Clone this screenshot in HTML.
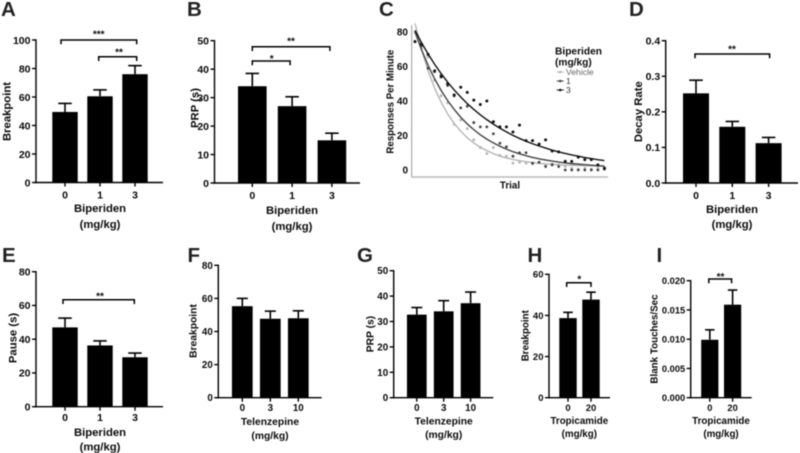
<!DOCTYPE html>
<html lang="en">
<head>
<meta charset="utf-8">
<title>Biperiden, Telenzepine and Tropicamide panels</title>
<style>
html,body{margin:0;padding:0;background:#fff;}
#figure{display:block;width:800px;height:453px;font-family:"Liberation Sans",Arial,sans-serif;font-weight:bold;fill:#0a0a0a;filter:blur(0.4px);}
</style>
</head>
<body>
<svg id="figure" xmlns="http://www.w3.org/2000/svg" width="800" height="453" viewBox="0 0 800 453"></svg>
<script>
// ---- Bar chart data ----
const doseBiperiden = ['0', '1', '3'];
const doseTelenzepine = ['0', '3', '10'];
const doseTropicamide = ['0', '20'];

const ticksA = [0, 20, 40, 60, 80, 100];
const meansA = [49.5, 60.5, 76];
const errTopsA = [55.5, 65, 82];

const ticksB = [0, 10, 20, 30, 40, 50];
const meansB = [34, 27, 15];
const errTopsB = [38.5, 30.3, 17.5];

const ticksD = [0, 0.1, 0.2, 0.3, 0.4];
const meansD = [0.252, 0.158, 0.112];
const errTopsD = [0.289, 0.173, 0.128];

const ticksE = [0, 20, 40, 60, 80];
const meansE = [47, 36.3, 29.3];
const errTopsE = [52.5, 39, 31.8];

const ticksF = [0, 20, 40, 60, 80];
const meansF = [55.3, 47.7, 48];
const errTopsF = [60, 52.3, 52.5];

const ticksG = [0, 10, 20, 30, 40, 50];
const meansG = [32.7, 34, 37.2];
const errTopsG = [35.5, 38.2, 41.6];

const ticksH = [0, 20, 40, 60];
const meansH = [38.7, 47.7];
const errTopsH = [41.5, 51.3];

const ticksI = [0, 0.005, 0.01, 0.015, 0.02];
const meansI = [0.0099, 0.0159];
const errTopsI = [0.0116, 0.0184];

// ---- Panel C data (responses per minute by trial) ----
const trials = [1,2,3,4,5,6,7,8,9,10,11,12,13,14,15,16,17,18,19,20,21,22,23,24,25,26,27,28,29,30];
const ticksC = [0, 20, 40, 60, 80];
const legendLabels = ['Vehicle', '1', '3'];
const pointsVehicle = [80,70.5,65.5,52,43,39,26.5,29,24,17.5,13,9.5,13,8.5,8,4,4.5,4,3.5,4.5,3,3.5,3,2,1,0.5,1,0.5,1,1.5];
const pointsDose1 = [74.5,72,59,57,55,49,43,36,37,27.5,25,25,21,15.5,13.5,8,10,10,4,4.5,2,3,2,0,0,0,0,0,0,0.5];
const pointsDose3 = [74.4,73,67,57.5,54,50,43.5,48,45,40.5,38,40,28,25,25,22,26,17,17,15,17.5,11,10.5,5,5,7.5,6,6,3,1];
const fitVehicle = [85,70,57.6,47.5,39.3,32.5,27,22.5,18.7,15.7,13.2,11.2,9.5,8.1,7,6.1,5.4,4.8,4.3,3.9,3.5,3.3,3,2.8,2.7,2.6,2.5,2.4,2.3,2.2];
const fitDose1 = [80,69.7,60.7,52.9,46.1,40.2,35.1,30.6,26.7,23.4,20.4,17.9,15.7,13.8,12.1,10.6,9.4,8.3,7.3,6.5,5.8,5.2,4.6,4.1,3.7,3.4,3.1,2.8,2.5,2.3];
const fitDose3 = [81,73.8,67.3,61.3,55.9,50.9,46.4,42.3,38.5,35.1,32,29.2,26.6,24.2,22.1,20.1,18.3,16.7,15.2,13.9,12.7,11.5,10.5,9.6,8.7,8,7.2,6.6,6,5.5];

// ---- Helpers ----
const svg = document.getElementById('figure');
const NS = 'http://www.w3.org/2000/svg';

function mk(parent, tag, name, props, text) {
  const el = document.createElementNS(NS, tag);
  
  
  for (const k in props) el.setAttribute(k, props[k]);
  if (text !== undefined) el.textContent = text;
  parent.appendChild(el);
  return el;
}
function line(p, name, x1, y1, x2, y2, w, color) {
  return mk(p, 'line', name, {x1: x1, y1: y1, x2: x2, y2: y2, stroke: color || '#000', 'stroke-width': w});
}
function label(p, name, x, y, str, size, anchor, extra) {
  const props = Object.assign({x: x, y: y, 'font-size': size, 'text-anchor': anchor || 'middle'}, extra || {});
  return mk(p, 'text', name, props, str);
}
function yLabel(p, name, x, y, str, size) {
  return mk(p, 'text', name, {
    x: x, y: y, 'font-size': size, 'text-anchor': 'middle',
    transform: 'rotate(-90 ' + x + ' ' + y + ')'
  }, str);
}
function linearScale(d0, d1, r0, r1) {
  return function (v) { return r0 + (v - d0) * (r1 - r0) / (d1 - d0); };
}
function panelLetter(str, x, y) {
  label(svg, 'panel-letter-' + str.toLowerCase(), x, y, str, 20.5, 'start', {fill: '#222'});
}

function barPanel(o) {
  const g = mk(svg, 'g', 'panel-' + o.id, {});
  const domainMax = o.ticks[o.ticks.length - 1];
  const y = linearScale(0, domainMax, o.y0, o.yTop);
  const x = function (i) { return o.first + o.step * i; };

  o.means.forEach(function (m, i) {
    const bx = x(i);
    mk(g, 'rect', 'bar-' + o.cats[i], {x: bx - o.barW / 2, y: y(m), width: o.barW, height: o.y0 - y(m), fill: '#000'});
    line(g, 'error-stem-' + o.cats[i], bx, y(m), bx, y(o.errs[i]), 1.6);
    line(g, 'error-cap-' + o.cats[i], bx - o.capW / 2, y(o.errs[i]), bx + o.capW / 2, y(o.errs[i]), 1.6);
  });

  line(g, 'y-axis', o.axisX, o.yTop - 0.7, o.axisX, o.y0 + 0.7, 1.4);
  line(g, 'x-axis', o.axisX - 0.7, o.y0, o.xEnd, o.y0, 1.4);

  o.ticks.forEach(function (t) {
    line(g, 'y-tick', o.axisX - 4, y(t), o.axisX, y(t), 1.4);
    label(g, 'y-tick-label', o.axisX - 5.5, y(t) + o.tickSize * 0.36, t.toFixed(o.decimals), o.tickSize, 'end');
  });
  o.cats.forEach(function (c, i) {
    line(g, 'x-tick', x(i), o.y0, x(i), o.y0 + 4, 1.4);
    label(g, 'x-tick-label', x(i), o.xTickY + o.tickSize * 0.36, c, o.tickSize);
  });

  yLabel(g, 'y-axis-title', o.yTitleX, o.yTitleY, o.yTitle, o.titleSize);
  label(g, 'x-axis-title', o.xTitleX, o.xTitleY, o.xTitle, o.titleSize);
  label(g, 'x-axis-unit', o.xTitleX, o.unitY, '(mg/kg)', o.titleSize);

  (o.brackets || []).forEach(function (b) {
    const xa = x(b.from) + b.dxA, xb = x(b.to) + b.dxB;
    mk(g, 'path', 'significance-bracket', {
      d: 'M' + xa + ' ' + (b.y + 4.3) + 'V' + b.y + 'H' + xb + 'V' + (b.y + 4.3),
      fill: 'none', stroke: '#000', 'stroke-width': 1.5
    });
    label(g, 'significance-stars', b.starX, b.starY + 5.5, b.stars, 10);
  });
}

// ---- Bar panels ----
const common = {titleSize: 11.3, tickSize: 10.5, barW: 25.4, capW: 13.5, decimals: 0};

barPanel(Object.assign({}, common, {id: 'a', cats: doseBiperiden, ticks: ticksA, means: meansA, errs: errTopsA,
  axisX: 36, xEnd: 163, y0: 182.5, yTop: 40, first: 65, step: 35, xTickY: 194.5,
  yTitle: 'Breakpoint', yTitleX: 10.5, yTitleY: 111.5, xTitle: 'Biperiden', xTitleX: 100, xTitleY: 212, unitY: 228,
  brackets: [
    {from: 0, to: 2, dxA: -4, dxB: 1.7, y: 40, stars: '***', starX: 98.7, starY: 32},
    {from: 1, to: 2, dxA: -1.3, dxB: 1.7, y: 56.7, stars: '**', starX: 119, starY: 50}
  ]}));

barPanel(Object.assign({}, common, {id: 'b', cats: doseBiperiden, ticks: ticksB, means: meansB, errs: errTopsB,
  axisX: 214.5, xEnd: 360, y0: 183, yTop: 40.7, first: 252.3, step: 39.8, barW: 28.6, xTickY: 195,
  yTitle: 'PRP (s)', yTitleX: 198.5, yTitleY: 108, xTitle: 'Biperiden', xTitleX: 292, xTitleY: 214, unitY: 230,
  brackets: [
    {from: 0, to: 2, dxA: 0, dxB: -2, y: 46.7, stars: '**', starX: 291, starY: 39},
    {from: 0, to: 1, dxA: 0, dxB: -2, y: 61, stars: '*', starX: 271.7, starY: 56.7}
  ]}));

barPanel(Object.assign({}, common, {id: 'd', cats: doseBiperiden, ticks: ticksD, means: meansD, errs: errTopsD,
  axisX: 665.7, xEnd: 798, y0: 183, yTop: 40.7, first: 696, step: 36.3, barW: 26, decimals: 1, xTickY: 195,
  yTitle: 'Decay Rate', yTitleX: 642, yTitleY: 111.7, xTitle: 'Biperiden', xTitleX: 732, xTitleY: 213, unitY: 228,
  brackets: [
    {from: 0, to: 2, dxA: -1, dxB: 1, y: 54, stars: '**', starX: 732, starY: 47}
  ]}));

barPanel(Object.assign({}, common, {id: 'e', cats: doseBiperiden, ticks: ticksE, means: meansE, errs: errTopsE,
  axisX: 36, xEnd: 163, y0: 406.7, yTop: 271.7, first: 65, step: 35, xTickY: 417,
  yTitle: 'Pause (s)', yTitleX: 16.3, yTitleY: 338, xTitle: 'Biperiden', xTitleX: 100, xTitleY: 436, unitY: 450.5,
  brackets: [
    {from: 0, to: 2, dxA: -2, dxB: -0.7, y: 299.7, stars: '**', starX: 100, starY: 294}
  ]}));

const small = {barW: 20.7, capW: 11, tickSize: 9.8, titleSize: 10.3, decimals: 0};

barPanel(Object.assign({}, small, {id: 'f', cats: doseTelenzepine, ticks: ticksF, means: meansF, errs: errTopsF,
  axisX: 218.3, xEnd: 321.7, y0: 397.7, yTop: 265.3, first: 242.3, step: 28, xTickY: 407.7,
  yTitle: 'Breakpoint', yTitleX: 196.5, yTitleY: 331, xTitle: 'Telenzepine', xTitleX: 270, xTitleY: 425, unitY: 439}));

barPanel(Object.assign({}, small, {id: 'g', cats: doseTelenzepine, ticks: ticksG, means: meansG, errs: errTopsG,
  axisX: 393.7, xEnd: 493.3, y0: 397.7, yTop: 270.7, first: 416.8, step: 26.9, barW: 19.7, capW: 11, xTickY: 407.7,
  yTitle: 'PRP (s)', yTitleX: 373.5, yTitleY: 334, xTitle: 'Telenzepine', xTitleX: 443.7, xTitleY: 424.5, unitY: 438}));

barPanel(Object.assign({}, small, {id: 'h', cats: doseTropicamide, ticks: ticksH, means: meansH, errs: errTopsH,
  axisX: 549, xEnd: 610, y0: 397.7, yTop: 274.3, first: 568, step: 23, barW: 17.4, capW: 9.5, tickSize: 9.5, titleSize: 9.8, xTickY: 407.7,
  yTitle: 'Breakpoint', yTitleX: 528.5, yTitleY: 335.7, xTitle: 'Tropicamide', xTitleX: 579.3, xTitleY: 424, unitY: 437,
  brackets: [
    {from: 0, to: 1, dxA: -1.3, dxB: 0, y: 282.7, stars: '*', starX: 579.3, starY: 277}
  ]}));

barPanel(Object.assign({}, small, {id: 'i', cats: doseTropicamide, ticks: ticksI, means: meansI, errs: errTopsI,
  axisX: 690.7, xEnd: 751.7, y0: 397.7, yTop: 280.7, first: 709.8, step: 22.8, barW: 17.2, capW: 9.5, tickSize: 9.3, titleSize: 9.8, decimals: 3, xTickY: 407.7,
  yTitle: 'Blank Touches/Sec', yTitleX: 657.5, yTitleY: 339, xTitle: 'Tropicamide', xTitleX: 721, xTitleY: 424, unitY: 437,
  brackets: [
    {from: 0, to: 1, dxA: -1, dxB: -1, y: 279, stars: '**', starX: 720.5, starY: 274.5}
  ]}));

// ---- Panel C ----
(function () {
  const g = mk(svg, 'g', 'panel-c', {});
  const x = linearScale(1, 30, 415, 604.4);
  const y = linearScale(0, 80, 170, 32);
  const seriesList = [
    {name: 'vehicle', pts: pointsVehicle, fit: fitVehicle, color: '#b5b5b5', r: 1.4},
    {name: 'dose-1', pts: pointsDose1, fit: fitDose1, color: '#444', r: 1.4},
    {name: 'dose-3', pts: pointsDose3, fit: fitDose3, color: '#111', r: 1.5}
  ];
  line(g, 'y-axis', 411.7, 25, 411.7, 177.5, 1, '#999');
  line(g, 'x-axis', 411.2, 177, 608, 177, 1.4, '#bbb');
  ticksC.forEach(function (t) {
    label(g, 'y-tick-label', 408, y(t) + 3.6, t, 10, 'end');
  });
  yLabel(g, 'y-axis-title', 393.5, 101.7, 'Responses Per Minute', 9.7);
  label(g, 'x-axis-title', 510, 188.5, 'Trial', 9.8);

  seriesList.forEach(function (s) {
    const d = s.fit.map(function (v, i) {
      return (i ? 'L' : 'M') + x(trials[i]).toFixed(2) + ' ' + y(v).toFixed(2);
    }).join('');
    mk(g, 'path', 'fit-curve-' + s.name, {d: d, fill: 'none', stroke: s.color, 'stroke-width': 1.4});
    s.pts.forEach(function (v, i) {
      mk(g, 'circle', 'point-' + s.name, {cx: x(trials[i]), cy: y(v), r: s.r, fill: s.color});
    });
  });

  const lg = mk(g, 'g', 'legend', {});
  label(lg, 'legend-title', 555, 54.5, 'Biperiden', 10.2, 'start');
  label(lg, 'legend-unit', 555, 65.5, '(mg/kg)', 10.2, 'start');
  legendLabels.forEach(function (name, i) {
    const ly = 72 + i * 9;
    const s = seriesList[i];
    line(lg, 'legend-line', 556.7, ly, 563.7, ly, 1, s.color);
    mk(lg, 'circle', 'legend-marker', {cx: 560.2, cy: ly, r: 1.3, fill: s.color});
    label(lg, 'legend-label', 566, ly + 3, name, 8.6, 'start', {'font-weight': 'normal', fill: i ? '#333' : '#666'});
  });
})();

// ---- Panel letters ----
panelLetter('A', 1, 16);
panelLetter('B', 187, 16);
panelLetter('C', 379, 16);
panelLetter('D', 629, 16);
panelLetter('E', 2, 262);
panelLetter('F', 187.5, 262);
panelLetter('G', 357, 262);
panelLetter('H', 527.5, 262);
panelLetter('I', 656.5, 262);
</script>
</body>
</html>
